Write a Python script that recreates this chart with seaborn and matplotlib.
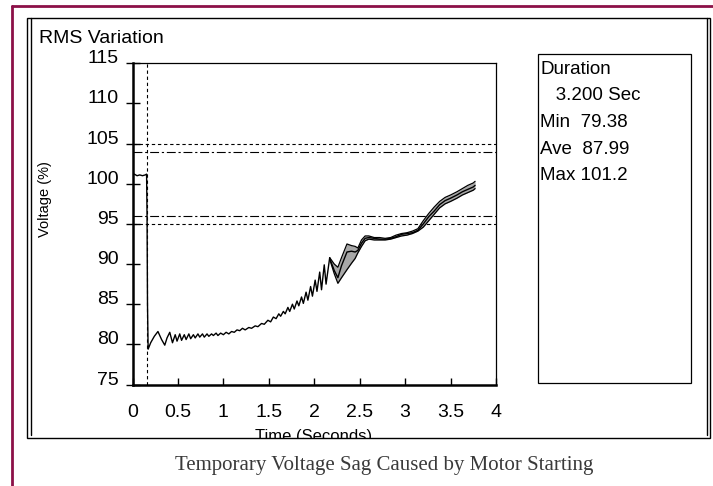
import numpy as np
import pandas as pd
import matplotlib
matplotlib.use("Agg")
import matplotlib.pyplot as plt
import seaborn as sns
from matplotlib.patches import Rectangle
from matplotlib.lines import Line2D
from matplotlib.transforms import Bbox, TransformedBbox

# ---------------- data ----------------
t_main = [0.00, 0.02, 0.05, 0.08, 0.11, 0.14, 0.155, 0.160, 0.165, 0.172,
          0.20, 0.24, 0.28, 0.32, 0.355, 0.38, 0.41, 0.44, 0.47, 0.49,
          0.52, 0.54, 0.57, 0.59, 0.62, 0.64, 0.67, 0.69, 0.72, 0.74,
          0.77, 0.79, 0.82, 0.84, 0.87, 0.89, 0.92, 0.94, 0.97, 1.00,
          1.03, 1.06, 1.09, 1.12, 1.15, 1.18, 1.21, 1.24, 1.28, 1.31,
          1.35, 1.38, 1.42, 1.45, 1.49, 1.52, 1.55, 1.58, 1.61, 1.63,
          1.66, 1.68, 1.71, 1.73, 1.76, 1.78, 1.81, 1.83, 1.86, 1.88,
          1.91, 1.93, 1.96, 1.98, 2.01, 2.03, 2.06, 2.08, 2.11, 2.13, 2.17]
v_main = [101.0, 101.2, 101.0, 101.1, 101.0, 101.1, 101.2, 96.1, 85.0, 79.4,
          80.2, 81.0, 81.6, 80.6, 79.9, 80.8, 81.5, 80.2, 81.2, 80.4,
          81.3, 80.5, 81.2, 80.6, 81.3, 80.7, 81.2, 80.8, 81.3, 80.9,
          81.3, 80.9, 81.3, 81.0, 81.3, 81.1, 81.4, 81.1, 81.4, 81.2,
          81.5, 81.3, 81.6, 81.5, 81.8, 81.7, 82.0, 81.8, 82.1, 82.0,
          82.3, 82.2, 82.6, 82.5, 83.0, 82.8, 83.4, 83.2, 83.8, 83.5,
          84.1, 83.8, 84.6, 84.1, 85.0, 84.4, 85.4, 84.8, 85.9, 85.1,
          86.5, 85.5, 87.2, 86.0, 88.0, 86.6, 89.0, 86.8, 89.9, 87.5, 90.8]

t_band = [2.17, 2.22, 2.26, 2.30, 2.36, 2.41, 2.45, 2.48, 2.52, 2.56,
          2.60, 2.66, 2.72, 2.78, 2.84, 2.90, 2.96, 3.02, 3.08, 3.14,
          3.20, 3.26, 3.32, 3.38, 3.44, 3.50, 3.57, 3.63, 3.69, 3.75, 3.77]
v_upper = [90.8, 90.0, 89.6, 90.8, 92.5, 92.3, 92.2, 92.0, 93.0, 93.5,
           93.5, 93.3, 93.3, 93.2, 93.3, 93.6, 93.8, 93.9, 94.1, 94.4,
           95.4, 96.3, 97.1, 97.8, 98.3, 98.6, 99.0, 99.4, 99.8, 100.1, 100.3]
v_lower = [90.6, 88.8, 87.6, 88.3, 89.3, 90.1, 90.7, 91.4, 92.2, 92.9,
           93.1, 93.0, 93.0, 93.0, 93.1, 93.3, 93.5, 93.6, 93.8, 94.1,
           94.6, 95.4, 96.2, 97.0, 97.5, 97.8, 98.2, 98.6, 98.9, 99.2, 99.4]
v_mid = [90.7, 89.2, 88.3, 89.8, 91.5, 91.6, 91.5, 91.7, 92.6, 93.2,
         93.3, 93.2, 93.1, 93.1, 93.2, 93.4, 93.7, 93.8, 93.9, 94.2,
         95.0, 95.9, 96.6, 97.4, 97.9, 98.2, 98.6, 99.0, 99.3, 99.6, 99.8]

limit_dashed = [105, 95]
limit_dashdot = [104, 96]
event_time = 0.163

x_ticks = [0, 0.5, 1, 1.5, 2, 2.5, 3, 3.5, 4]
x_ticklabels = ["0", "0.5", "1", "1.5", "2", "2.5", "3", "3.5", "4"]
y_ticks = [75, 80, 85, 90, 95, 100, 105, 110, 115]

title = "RMS Variation"
y_label = "Voltage (%)"
x_label = "Time (Seconds)"
stats_lines = ["Duration", "   3.200 Sec", "Min  79.38", "Ave  87.99", "Max 101.2"]
caption = "Temporary Voltage Sag Caused by Motor Starting"

# ---------------- styling ----------------
sns.set_theme(style="white")
sans = ["Liberation Sans", "DejaVu Sans"]
plt.rcParams["font.family"] = sans

W, H = 713, 486
fig = plt.figure(figsize=(W / 100, H / 100), dpi=100)
fig.patch.set_facecolor("white")

def fx(px):
    return px / W

def fy(py):
    return 1 - py / H

ax_l, ax_r, ax_t, ax_b = 132.5, 496.0, 63.3, 384.5
ax = fig.add_axes([fx(ax_l), fy(ax_b), fx(ax_r - ax_l), (ax_b - ax_t) / H])
ax.set_facecolor("none")

df_main = pd.DataFrame({"t": t_main, "v": v_main})
df_band = pd.DataFrame({"t": t_band, "up": v_upper, "lo": v_lower, "mid": v_mid})

ax.fill_between(df_band["t"], df_band["lo"], df_band["up"], color="#a8a8a8", lw=0, zorder=2)
sns.lineplot(data=df_main, x="t", y="v", ax=ax, color="black", lw=1.0,
             estimator=None, sort=False, zorder=3)
for col, lw in [("up", 0.9), ("lo", 0.9), ("mid", 1.0)]:
    sns.lineplot(data=df_band, x="t", y=col, ax=ax, color="black", lw=lw,
                 estimator=None, sort=False, zorder=3)

for y in limit_dashed:
    ax.axhline(y, color="black", lw=0.8, ls=(0, (3, 2.5)), zorder=1)
for y in limit_dashdot:
    ax.axhline(y, color="black", lw=0.8, ls=(0, (8, 2.5, 2, 2.5)), zorder=1)
ax.axvline(event_time, color="black", lw=0.8, ls=(0, (3, 2.5)), zorder=1)

ax.set_xlim(0, 4)
ax.set_ylim(75, 115)
ax.set_xticks(x_ticks)
ax.set_xticklabels(x_ticklabels)
ax.set_yticks(y_ticks)
ax.set_xlabel("")
ax.set_ylabel("")
ax.grid(False)

for s in ["top", "right"]:
    ax.spines[s].set_linewidth(0.9)
    ax.spines[s].set_color("black")
for s in ["left", "bottom"]:
    ax.spines[s].set_linewidth(1.8)
    ax.spines[s].set_color("black")

ax.tick_params(axis="y", direction="inout", length=9.5, width=1.0, pad=5,
               labelsize=14, colors="black", left=True)
ax.tick_params(axis="x", direction="in", length=5, width=1.0, pad=14,
               labelsize=14, colors="black", bottom=True)
for lbl in ax.get_yticklabels():
    lbl.set_va("baseline")

# frame box
frame_l, frame_r, frame_t, frame_b = 27, 710, 18, 438
fig.add_artist(Rectangle((fx(frame_l), fy(frame_b)), fx(frame_r - frame_l),
                         (frame_b - frame_t) / H, transform=fig.transFigure,
                         fill=False, ec="black", lw=1.0, zorder=5))
for xp in [30.5, 707]:
    fig.add_artist(Line2D([fx(xp), fx(xp)], [fy(frame_t), fy(435)],
                          transform=fig.transFigure, color="black", lw=1.0, zorder=5))

# stats box
fig.add_artist(Rectangle((fx(538), fy(383)), fx(691 - 538), (383 - 54) / H,
                         transform=fig.transFigure, fill=False, ec="black",
                         lw=0.9, zorder=5))
for i, s in enumerate(stats_lines):
    fig.text(fx(540.5), fy(74 + 26.5 * i), s, fontsize=13.5, ha="left",
             va="baseline", color="black", family=sans)

fig.text(fx(39), fy(43), title, fontsize=14, ha="left", va="baseline",
         color="black", family=sans)
fig.text(fx(45), fy(199), y_label, fontsize=10.5, rotation=90, ha="center",
         va="center", color="black", family=sans)

xl = fig.text(fx(314), fy(441), x_label, fontsize=12, ha="center",
              va="baseline", color="black", family=sans)
xl.set_clip_box(TransformedBbox(Bbox.from_extents(0, fy(438), 1, 1), fig.transFigure))
xl.set_clip_on(True)

fig.text(fx(384), fy(470), caption, fontsize=15, ha="center", va="baseline",
         color="#3a3a3a", family=["Liberation Serif", "DejaVu Serif"])

# maroon border
fig.add_artist(Line2D([fx(12), 1], [fy(6.5), fy(6.5)], transform=fig.transFigure,
                      color="#8c1048", lw=2.0, zorder=6))
fig.add_artist(Line2D([fx(12), fx(12)], [fy(6.5), 0], transform=fig.transFigure,
                      color="#8c1048", lw=2.0, zorder=6))

fig.savefig("out.png", dpi=100)
